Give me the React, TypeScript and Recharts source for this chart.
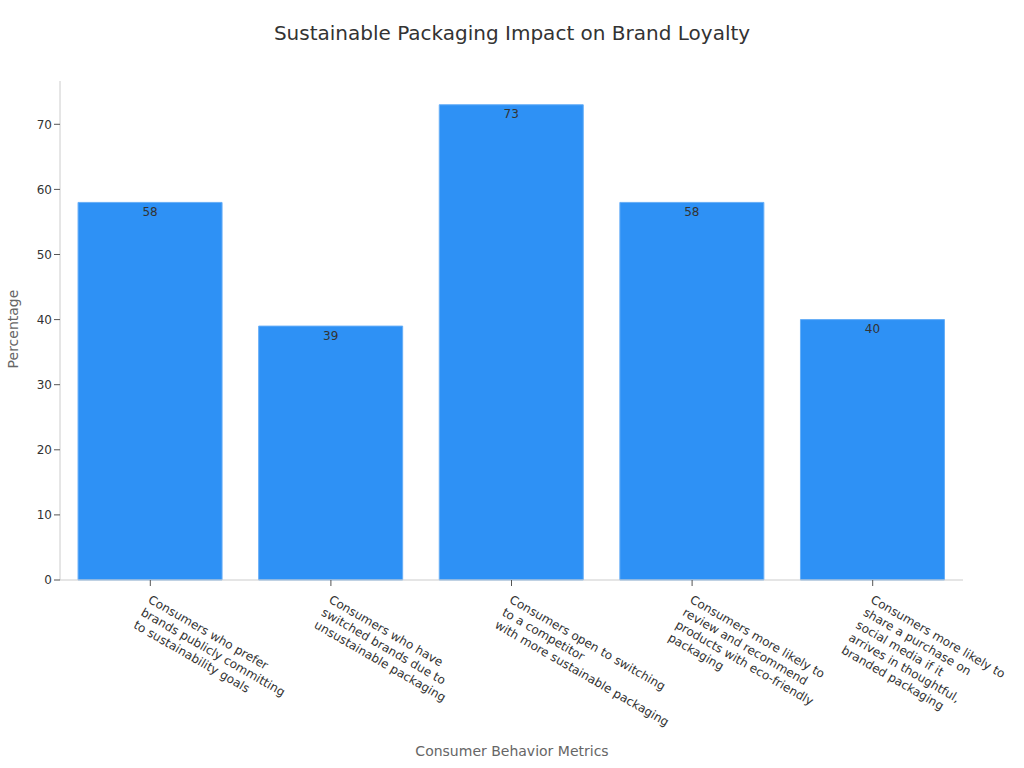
import { BarChart, Bar, XAxis, YAxis, LabelList } from "recharts";

const CATEGORIES = [
  "Consumers who prefer\nbrands publicly committing\nto sustainability goals",
  "Consumers who have\nswitched brands due to\nunsustainable packaging",
  "Consumers open to switching\nto a competitor\nwith more sustainable packaging",
  "Consumers more likely to\nreview and recommend\nproducts with eco-friendly\npackaging",
  "Consumers more likely to\nshare a purchase on\nsocial media if it\narrives in thoughtful,\nbranded packaging",
];
const PERCENTAGES = [58, 39, 73, 58, 40];
const Y_TICKS = [0, 10, 20, 30, 40, 50, 60, 70];

const FONT = "'DejaVu Sans', sans-serif";

const chartData = CATEGORIES.map((name, i) => ({ name, value: PERCENTAGES[i] }));

function CategoryTick({ x, y, payload }: any) {
  const lines = String(payload.value).split("\n");
  return (
    <g transform={`translate(${x - 3},${y + 14})`}>
      <text transform="rotate(30)" textAnchor="start" fontSize={12} fill="#333" fontFamily={FONT}>
        {lines.map((line, i) => (
          <tspan key={i} x={0} dy={i === 0 ? 0 : 14.6}>
            {line}
          </tspan>
        ))}
      </text>
    </g>
  );
}

export default function App() {
  return (
    <div style={{ position: "absolute", left: 0, top: 0, width: 1024, height: 768, fontFamily: FONT, background: "#fff" }}>
      <div style={{ position: "absolute", top: 21, left: 0, width: 1024, textAlign: "center", fontSize: 20, color: "#333" }}>
        Sustainable Packaging Impact on Brand Loyalty
      </div>
      <div
        style={{
          position: "absolute",
          left: 13,
          top: 329,
          transform: "translate(-50%, -50%) rotate(-90deg)",
          fontSize: 14,
          color: "#666",
          whiteSpace: "nowrap",
        }}
      >
        Percentage
      </div>
      <div style={{ position: "absolute", top: 743, left: 0, width: 1024, textAlign: "center", fontSize: 14, color: "#666" }}>
        Consumer Behavior Metrics
      </div>
      <BarChart
        width={1024}
        height={768}
        data={chartData}
        margin={{ top: 81, right: 61, bottom: 0, left: 0 }}
        barCategoryGap="10%"
        style={{ position: "absolute", left: 0, top: 0 }}
      >
        <XAxis
          dataKey="name"
          height={188}
          interval={0}
          tick={<CategoryTick />}
          axisLine={{ stroke: "#ccc" }}
          tickLine={{ stroke: "#555" }}
        />
        <YAxis
          width={60}
          domain={[0, 76.65]}
          ticks={Y_TICKS}
          tick={{ fill: "#333", fontSize: 12, fontFamily: FONT }}
          axisLine={{ stroke: "#ccc" }}
          tickLine={{ stroke: "#555" }}
        />
        <Bar dataKey="value" fill="#2E91F5" stroke="#66AEF7" strokeWidth={1} isAnimationActive={false}>
          <LabelList dataKey="value" position="insideTop" fill="#333" fontSize={12} fontFamily={FONT} />
        </Bar>
      </BarChart>
    </div>
  );
}
